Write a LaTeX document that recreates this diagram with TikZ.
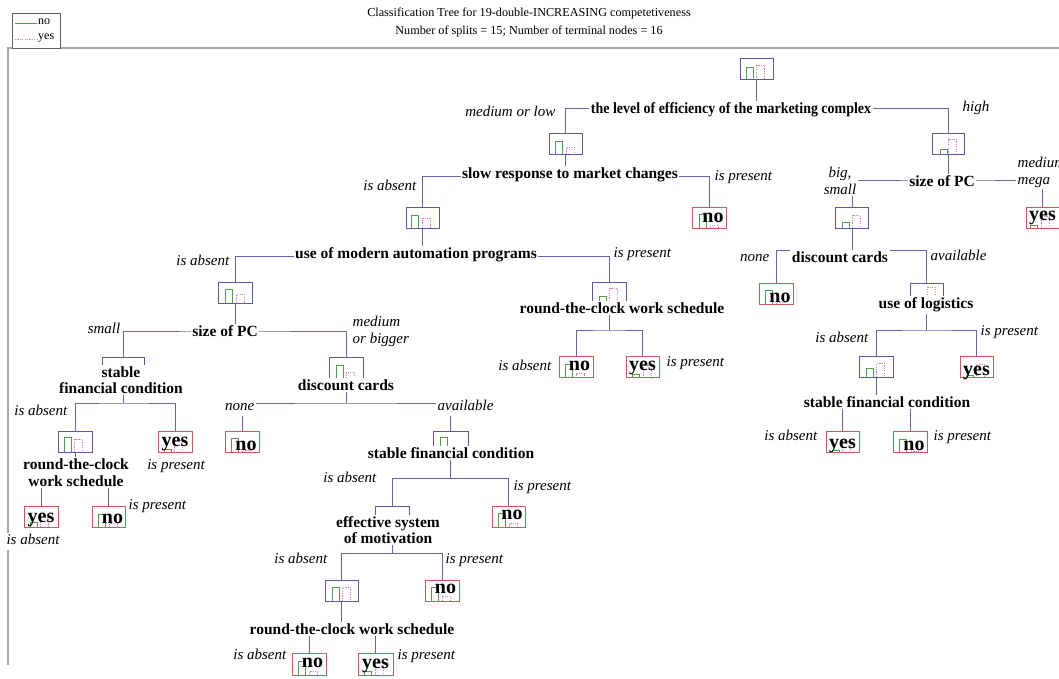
\documentclass[tikz,border=0pt]{standalone}
\usepackage{fontspec}
\setmainfont{Liberation Serif}
\usetikzlibrary{calc}

\pgfdeclarelayer{background}
\pgfdeclarelayer{bars}
\pgfsetlayers{background,bars,main}

\definecolor{edgeblue}{HTML}{6464AA}
\definecolor{boxblue}{HTML}{5A5AAA}
\definecolor{leafred}{HTML}{CC5A5A}
\definecolor{histgreen}{HTML}{4E9E4E}
\definecolor{histpink}{HTML}{D67CC8}
\definecolor{framegray}{HTML}{A8A8A8}
\definecolor{legendgray}{HTML}{606060}

\tikzset{
  innerbox/.style={draw=boxblue, line width=0.9pt, minimum width=34pt,
    minimum height=21pt, inner sep=0pt},
  leafbox/.style={draw=leafred, line width=0.9pt, minimum width=34pt,
    minimum height=21pt, inner sep=0pt,
    font=\bfseries\fontsize{20}{20}\selectfont, text depth=0pt},
  splitlabel/.style={fill=white, inner sep=1.5pt, align=center,
    font=\bfseries\fontsize{15.5}{16.5}\selectfont},
  edgelabel/.style={fill=white, inner sep=1.5pt,
    font=\itshape\fontsize{15}{17}\selectfont, text height=10.5pt, text depth=3.5pt},
  edgelabeltwo/.style={fill=white, inner sep=1.5pt, align=left,
    font=\itshape\fontsize{15}{17}\selectfont},
  conn/.style={draw=edgeblue, line width=0.9pt},
  greenbar/.style={draw=histgreen, line width=0.8pt},
  pinkbar/.style={draw=histpink, line width=0.8pt, dash pattern=on 1.2pt off 1.2pt},
}

% class histogram inside a box: node, green offset, green height, pink offset, pink height
\newcommand{\hbars}[5]{%
  \begin{pgfonlayer}{bars}
    \draw[greenbar] ($(#1.south west)+(#2,0)$) -- ++(0,-#3) -- ++(7,0) -- ++(0,#3);
    \draw[pinkbar] ($(#1.south west)+(#4,0)$) -- ++(0,-#5) -- ++(8,0) -- ++(0,#5);
  \end{pgfonlayer}}

% split connector: parent, split-line point, left child, right child
\newcommand{\treesplit}[4]{%
  \begin{pgfonlayer}{background}
    \draw[conn] (#1.south) -- (#2);
    \draw[conn] (#3.north) |- (#2) -| (#4.north);
  \end{pgfonlayer}}

\begin{document}
\begin{tikzpicture}[x=1pt, y=-1pt]
\useasboundingbox (0,0) rectangle (1059,678);

% frame and legend
\draw[framegray, line width=1.5pt] (8,665) -- (8,48) -- (1059,48);
\node[draw=legendgray, line width=0.9pt, minimum width=48pt, minimum height=35pt,
  inner sep=0pt, fill=white] (legend) at (36,30.5) {};
\draw[greenbar] (15,23) -- (37,23);
\node[anchor=west, inner sep=0pt, font=\fontsize{12}{12}\selectfont] (legno) at (38,22) {no};
\draw[pinkbar] (15,39) -- (37,39);
\node[anchor=west, inner sep=0pt, font=\fontsize{12}{12}\selectfont] (legyes) at (38,38) {yes};

% title
\node[inner sep=0pt, font=\fontsize{12.2}{13}\selectfont] (title1) at (529,14)
  {Classification Tree for 19-double-INCREASING competetiveness};
\node[inner sep=0pt, font=\fontsize{12.2}{13}\selectfont] (title2) at (529,31)
  {Number of splits = 15; Number of terminal nodes = 16};

% internal nodes
\node[innerbox, minimum width=33pt] (n1) at (756.5,69) {};
\node[innerbox, minimum width=33pt] (n2) at (565.5,143.5) {};
\node[innerbox, minimum width=32pt] (n3) at (948,144) {};
\node[innerbox, minimum width=33pt] (n4) at (852,217.5) {};
\node[innerbox, minimum width=33pt] (n5) at (926.5,293.5) {};
\node[innerbox] (n6) at (876,366.5) {};
\node[innerbox, minimum width=33pt] (n7) at (422.5,217.5) {};
\node[innerbox] (n8) at (235,292.5) {};
\node[innerbox] (n9) at (609,292.5) {};
\node[innerbox, minimum width=42pt] (n10) at (123,367.5) {};
\node[innerbox] (n11) at (75,441.5) {};
\node[innerbox] (n12) at (346,367.5) {};
\node[innerbox, minimum width=35pt] (n13) at (450.5,441.5) {};
\node[innerbox] (n14) at (392,516.5) {};
\node[innerbox, minimum width=33pt] (n15) at (341.5,590.5) {};

\hbars{n1}{7}{13}{17}{15}
\hbars{n2}{7}{13}{18}{7}
\hbars{n3}{9}{6}{17}{16}
\hbars{n4}{7}{6}{17}{13}
\hbars{n5}{7}{4}{18}{17}
\hbars{n6}{8}{9}{18}{14}
\hbars{n7}{6}{13}{17}{10}
\hbars{n8}{8}{14}{19}{9}
\hbars{n9}{8}{7}{18}{15}
\hbars{n10}{10}{12}{22}{10}
\hbars{n11}{7}{15}{17}{13}
\hbars{n12}{8}{13}{18}{6}
\hbars{n13}{8}{15}{18}{5}
\hbars{n14}{8}{10}{18}{8}
\hbars{n15}{8}{14}{18}{14}

% terminal nodes
\node[leafbox, text height=9pt] (l1) at (709.5,217.5) {\hspace*{7pt}no};
\node[leafbox, minimum width=33pt, text height=6pt] (l2) at (1042.5,217.5) {yes};
\node[leafbox, text height=17pt] (l3) at (776,293.5) {\hspace*{8pt}no};
\node[leafbox, minimum width=33pt, text height=16pt] (l4) at (976.5,367) {yes};
\node[leafbox, minimum width=33pt, text height=12pt] (l5) at (842.5,442) {yes};
\node[leafbox, text height=16pt] (l6) at (910,442) {\hspace*{8pt}no};
\node[leafbox, text height=6pt] (l7) at (576,367) {\hspace*{7pt}no};
\node[leafbox, minimum width=33pt, text height=6pt] (l8) at (642.5,367) {yes};
\node[leafbox, text height=9pt] (l9) at (175,441.5) {yes};
\node[leafbox, text height=11pt] (l10) at (41,516.5) {yes};
\node[leafbox, minimum width=33pt, text height=13pt] (l11) at (108.5,516.5) {\hspace*{8pt}no};
\node[leafbox, text height=17pt] (l12) at (242,441.5) {\hspace*{8pt}no};
\node[leafbox, minimum width=33pt, text height=5pt] (l13) at (508.5,516.5) {\hspace*{7pt}no};
\node[leafbox, text height=5pt] (l14) at (442,590.5) {\hspace*{7pt}no};
\node[leafbox, minimum width=34pt, minimum height=22pt, text height=6pt] (l15) at (309,664) {\hspace*{7pt}no};
\node[leafbox, minimum width=35pt, minimum height=22pt, text height=8pt] (l16) at (375.5,664) {yes};

\hbars{l1}{7}{14}{18}{3}
\hbars{l2}{5}{3}{16}{12}
\hbars{l3}{7}{14}{18}{2}
\hbars{l4}{7}{3}{17}{14}
\hbars{l5}{7}{3}{17}{12}
\hbars{l6}{7}{14}{18}{2}
\hbars{l7}{7}{14}{18}{5}
\hbars{l8}{7}{4}{18}{13}
\hbars{l9}{7}{3}{17}{12}
\hbars{l10}{7}{5}{17}{10}
\hbars{l11}{7}{13}{18}{4}
\hbars{l12}{7}{14}{18}{2}
\hbars{l13}{7}{14}{18}{4}
\hbars{l14}{7}{14}{18}{5}
\hbars{l15}{7}{14}{18}{4}
\hbars{l16}{7}{4}{18}{13}

% split lines
\coordinate (h1) at (n1.south |- 0,108);
\coordinate (h2) at (n2.south |- 0,176);
\coordinate (h3) at (n3.south |- 0,180);
\coordinate (h4) at (n4.south |- 0,250);
\coordinate (h5) at (n5.south |- 0,330);
\coordinate (h6) at (n6.south |- 0,402);
\coordinate (h7) at (n7.south |- 0,256);
\coordinate (h8) at (n8.south |- 0,331);
\coordinate (h9) at (n9.south |- 0,330);
\coordinate (h10) at (n10.south |- 0,403);
\coordinate (h11) at (n11.south |- 0,482);
\coordinate (h12) at (n12.south |- 0,403);
\coordinate (h13) at (n13.south |- 0,478);
\coordinate (h14) at (n14.south |- 0,553);
\coordinate (h15) at (n15.south |- 0,630);

\treesplit{n1}{h1}{n2}{n3}
\treesplit{n2}{h2}{n7}{l1}
\treesplit{n3}{h3}{n4}{l2}
\treesplit{n4}{h4}{l3}{n5}
\treesplit{n5}{h5}{n6}{l4}
\treesplit{n6}{h6}{l5}{l6}
\treesplit{n7}{h7}{n8}{n9}
\treesplit{n8}{h8}{n10}{n12}
\treesplit{n9}{h9}{l7}{l8}
\treesplit{n10}{h10}{n11}{l9}
\treesplit{n11}{h11}{l10}{l11}
\treesplit{n12}{h12}{l12}{n13}
\treesplit{n13}{h13}{n14}{l13}
\treesplit{n14}{h14}{n15}{l14}
\treesplit{n15}{h15}{l15}{l16}

% split variables
\node[splitlabel] (s1) at (731,110) {\scalebox{0.9}[1]{the level of efficiency of the marketing complex}};
\node[splitlabel] (s2) at (570,175) {slow response to market changes};
\node[splitlabel] (s3) at (942,181) {size of PC};
\node[splitlabel] (s4) at (840,257) {discount cards};
\node[splitlabel] (s5) at (926,305) {use of logistics};
\node[splitlabel] (s6) at (887,402) {stable financial condition};
\node[splitlabel] (s7) at (416,255) {use of modern automation programs};
\node[splitlabel] (s8) at (225,331) {size of PC};
\node[splitlabel] (s9) at (622,308) {round-the-clock work schedule};
\node[splitlabel] (s10) at (121,380) {stable\\financial condition};
\node[splitlabel] (s11) at (76,472.5) {round-the-clock\\work schedule};
\node[splitlabel] (s12) at (346,385) {discount cards};
\node[splitlabel] (s13) at (451,453) {stable financial condition};
\node[splitlabel] (s14) at (388,530) {effective system\\of motivation};
\node[splitlabel] (s15) at (352,629) {round-the-clock work schedule};

% branch conditions
\node[edgelabel, anchor=east] (e1a) at (557,113) {medium or low};
\node[edgelabel, anchor=west] (e1b) at (961,108) {high};
\node[edgelabel, anchor=east] (e2a) at (418,187) {is absent};
\node[edgelabel, anchor=west] (e2b) at (713,177) {is present};
\node[edgelabeltwo, align=center] (e3a) at (840,181) {big,\\small};
\node[edgelabeltwo, anchor=west] (e3b) at (1016,172) {medium,\\mega};
\node[edgelabel, anchor=east] (e4a) at (771,258) {none};
\node[edgelabel, anchor=west] (e4b) at (929,257) {available};
\node[edgelabel, anchor=east] (e5a) at (870,339) {is absent};
\node[edgelabel, anchor=west] (e5b) at (979,332) {is present};
\node[edgelabel, anchor=east] (e6a) at (819,437) {is absent};
\node[edgelabel, anchor=west] (e6b) at (932,437) {is present};
\node[edgelabel, anchor=east] (e7a) at (231,262) {is absent};
\node[edgelabel, anchor=west] (e7b) at (612,254) {is present};
\node[edgelabel, anchor=east] (e8a) at (122,330) {small};
\node[edgelabeltwo, anchor=west] (e8b) at (351,331.5) {medium\\or bigger};
\node[edgelabel, anchor=east] (e9a) at (553,367) {is absent};
\node[edgelabel, anchor=west] (e9b) at (665,363) {is present};
\node[edgelabel, anchor=east] (e10a) at (69,412) {is absent};
\node[edgelabel] (e10b) at (176,466) {is present};
\node[edgelabel] (e11a) at (33,541) {is absent};
\node[edgelabel, anchor=west] (e11b) at (127,506) {is present};
\node[edgelabel, anchor=east] (e12a) at (256,407) {none};
\node[edgelabel, anchor=west] (e12b) at (436,407) {available};
\node[edgelabel, anchor=east] (e13a) at (378,479) {is absent};
\node[edgelabel, anchor=west] (e13b) at (512,487) {is present};
\node[edgelabel, anchor=east] (e14a) at (329,560) {is absent};
\node[edgelabel, anchor=west] (e14b) at (444,560) {is present};
\node[edgelabel, anchor=east] (e15a) at (288,656) {is absent};
\node[edgelabel, anchor=west] (e15b) at (396,656) {is present};
\end{tikzpicture}
\end{document}
